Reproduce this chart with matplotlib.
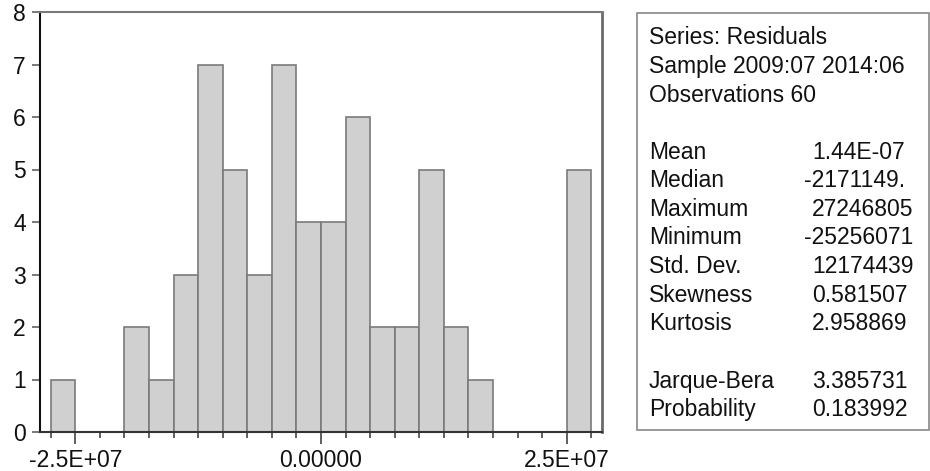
import numpy as np
import matplotlib
matplotlib.use("Agg")
import matplotlib.pyplot as plt
from matplotlib.patches import Rectangle

plt.rcParams['font.family'] = ['Liberation Sans', 'DejaVu Sans']

# histogram of residuals (bin width 2.5E+06, first edge -2.75E+07)
bin_width = 2.5e6
first_edge = -2.75e7
counts = [1, 0, 0, 2, 1, 3, 7, 5, 3, 7, 4, 4, 6, 2, 2, 5, 2, 1, 0, 0, 0, 5]

xtick_vals = [-2.5e7, 0.0, 2.5e7]
xtick_labels = ["-2.5E+07", "0.00000", "2.5E+07"]
ytick_vals = [0, 1, 2, 3, 4, 5, 6, 7, 8]

stat_labels = ["Series: Residuals", "Sample 2009:07 2014:06", "Observations 60", "",
               "Mean", "Median", "Maximum", "Minimum", "Std. Dev.", "Skewness",
               "Kurtosis", "", "Jarque-Bera", "Probability"]
stat_values = ["", "", "", "",
               "1.44E-07", "-2171149.", "27246805", "-25256071", "12174439", "0.581507",
               "2.958869", "", "3.385731", "0.183992"]

W, H = 930, 471
FS = 16.5
TXT = "#111111"

fig = plt.figure(figsize=(W / 100, H / 100), dpi=100)
ax = fig.add_axes([40 / W, (H - 432) / H, 562 / W, 420 / H])

edges = first_edge + bin_width * np.arange(len(counts) + 1)
ax.bar(edges[:-1], counts, width=bin_width, align="edge",
       color="#d0d0d0", edgecolor="#7a7a7a", linewidth=1.2)

ax.set_xlim(-2.86e7, 2.86e7)
ax.set_ylim(0, 8)

ax.set_xticks(xtick_vals)
ax.set_xticklabels(xtick_labels)
ax.set_xticks(edges, minor=True)
ax.set_yticks(ytick_vals)

ax.tick_params(axis="x", which="major", length=8.4, width=1.1, color="#333333",
               pad=3.5, labelsize=FS, labelcolor=TXT)
ax.tick_params(axis="x", which="minor", length=4.3, width=1.1, color="#333333")
ax.tick_params(axis="y", which="major", length=6, width=1.1, color="#555555",
               pad=4.3, labelsize=FS, labelcolor=TXT)

ax.spines["left"].set_color("#111111")
ax.spines["left"].set_linewidth(1.5)
ax.spines["bottom"].set_color("#333333")
ax.spines["bottom"].set_linewidth(1.5)
ax.spines["top"].set_color("#7a7a7a")
ax.spines["top"].set_linewidth(1.5)
ax.spines["right"].set_color("#6a6a6a")
ax.spines["right"].set_linewidth(2.0)

# stats box
box = Rectangle((637 / W, (H - 430) / H), (929 - 637) / W, (430 - 13) / H,
                transform=fig.transFigure, fill=False, edgecolor="#888888", lw=1.2)
fig.patches.append(box)

for i, (lab, val) in enumerate(zip(stat_labels, stat_values)):
    yb = 44.3 + 28.6 * i
    if lab:
        fig.text(649 / W, 1 - yb / H, lab, va="baseline", ha="left",
                 fontsize=FS, color=TXT)
    if val:
        xv = 804 if val.startswith("-") else 812
        fig.text(xv / W, 1 - yb / H, val, va="baseline", ha="left",
                 fontsize=FS, color=TXT)

fig.savefig("out.png", dpi=100)
